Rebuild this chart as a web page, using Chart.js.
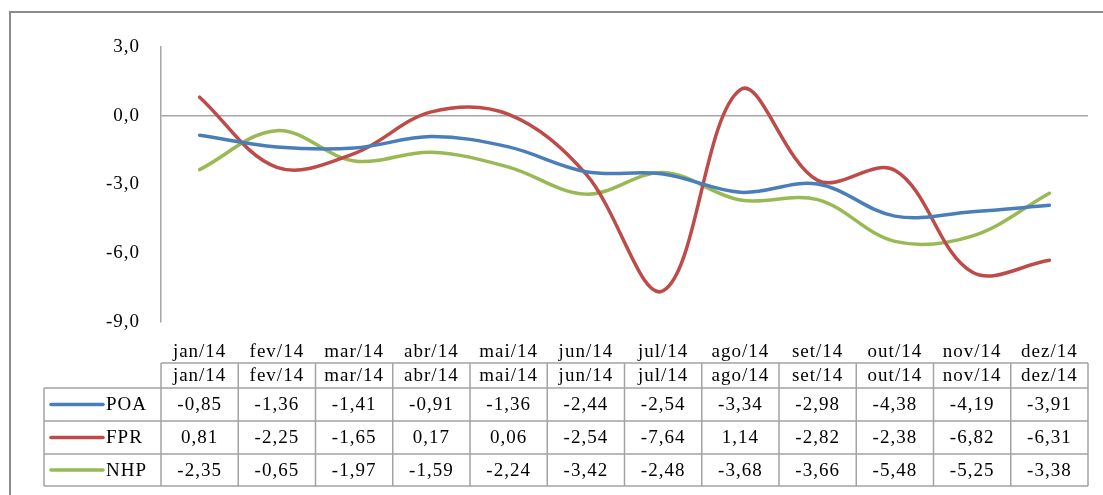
<!DOCTYPE html>
<html>
<head>
<meta charset="utf-8">
<script src="https://cdn.jsdelivr.net/npm/chart.js@4.4.1/dist/chart.umd.min.js"></script>
<style>
  html, body { margin: 0; padding: 0; background: #fff; }
  #wrap { width: 1103px; height: 495px; position: relative; }
</style>
</head>
<body>
<div id="wrap"><canvas id="chart" width="1103" height="495"></canvas></div>
<script>
const months = ['jan/14', 'fev/14', 'mar/14', 'abr/14', 'mai/14', 'jun/14', 'jul/14', 'ago/14', 'set/14', 'out/14', 'nov/14', 'dez/14'];
const poa = [-0.85, -1.36, -1.41, -0.91, -1.36, -2.44, -2.54, -3.34, -2.98, -4.38, -4.19, -3.91];
const fpr = [0.81, -2.25, -1.65, 0.17, 0.06, -2.54, -7.64, 1.14, -2.82, -2.38, -6.82, -6.31];
const nhp = [-2.35, -0.65, -1.97, -1.59, -2.24, -3.42, -2.48, -3.68, -3.66, -5.48, -5.25, -3.38];
const yTicks = [3, 0, -3, -6, -9];

const series = [
  { label: 'POA', data: poa, color: '#4a7ebb' },
  { label: 'FPR', data: fpr, color: '#be4b48' },
  { label: 'NHP', data: nhp, color: '#98b954' },
];

const FONT = '"Liberation Serif", "Times New Roman", serif';
const comma = (v, d) => v.toFixed(d).replace('.', ',');

// frame + data table under the plot, aligned to the category scale
const tablePlugin = {
  id: 'dataTable',
  beforeDraw(chart) {
    const ctx = chart.ctx;
    ctx.letterSpacing = '1px';
    ctx.save();
    ctx.strokeStyle = '#8c8c8c';
    ctx.lineWidth = 2;
    ctx.beginPath();
    ctx.moveTo(10, 495);
    ctx.lineTo(10, 12);
    ctx.lineTo(1103, 12);
    ctx.stroke();
    ctx.restore();
  },
  afterDraw(chart) {
    const ctx = chart.ctx;
    const x = chart.scales.x;
    const colW = (x.right - x.left) / months.length;
    const headTop = 363, rowTops = [388, 421, 454], bottom = 486;
    const legLeft = 44;

    ctx.save();
    ctx.strokeStyle = '#a3a3a3';
    ctx.lineWidth = 1.5;
    ctx.beginPath();
    // horizontal rules
    ctx.moveTo(x.left, headTop); ctx.lineTo(x.right, headTop);
    [...rowTops, bottom].forEach((y) => { ctx.moveTo(legLeft, y); ctx.lineTo(x.right, y); });
    // vertical rules
    ctx.moveTo(legLeft, rowTops[0]); ctx.lineTo(legLeft, bottom);
    for (let i = 0; i <= months.length; i++) {
      const cx = x.left + i * colW;
      ctx.moveTo(cx, headTop); ctx.lineTo(cx, bottom);
    }
    ctx.stroke();

    ctx.fillStyle = '#000';
    ctx.font = '19px ' + FONT;
    ctx.textAlign = 'center';
    ctx.textBaseline = 'middle';
    months.forEach((m, i) => ctx.fillText(m, x.getPixelForTick(i), (headTop + rowTops[0]) / 2 + 1));

    series.forEach((s, r) => {
      const cy = (rowTops[r] + (rowTops[r + 1] || bottom)) / 2 + 1;
      s.data.forEach((v, i) => {
        ctx.textAlign = 'center';
        ctx.fillText(comma(v, 2), x.getPixelForTick(i), cy);
      });
      ctx.strokeStyle = s.color;
      ctx.lineWidth = 3.5;
      ctx.lineCap = 'round';
      ctx.beginPath();
      ctx.moveTo(51, cy - 1); ctx.lineTo(103, cy - 1);
      ctx.stroke();
      ctx.textAlign = 'left';
      ctx.fillText(s.label, 106, cy);
    });
    ctx.restore();
  },
};

new Chart(document.getElementById('chart'), {
  type: 'line',
  data: {
    labels: months,
    datasets: series.map((s) => ({
      label: s.label,
      data: s.data,
      borderColor: s.color,
      backgroundColor: s.color,
      borderWidth: 3.5,
      borderCapStyle: 'round',
      pointRadius: 0,
      tension: 0.36,
      fill: false,
    })),
  },
  options: {
    responsive: false,
    animation: false,
    events: [],
    layout: { padding: { top: 47, right: 15, bottom: 0, left: 0 } },
    plugins: { legend: { display: false }, tooltip: { enabled: false } },
    scales: {
      x: {
        offset: true,
        grid: { display: false },
        border: { display: false },
        ticks: { color: '#000', font: { family: FONT, size: 19 }, padding: 11, maxRotation: 0 },
        afterFit: (s) => { s.height = 173; },
      },
      y: {
        min: -9,
        max: 3,
        afterBuildTicks: (s) => { s.ticks = yTicks.map((v) => ({ value: v })); },
        grid: {
          drawTicks: false,
          color: (c) => (c.tick && c.tick.value === 0 ? '#a6a6a6' : 'rgba(0,0,0,0)'),
          lineWidth: 1.5,
        },
        border: { display: true, color: '#a6a6a6', width: 1.5 },
        ticks: {
          color: '#000',
          font: { family: FONT, size: 19 },
          padding: 21,
          callback: (v) => comma(v, 1),
        },
        afterFit: (s) => { s.width = 161; },
      },
    },
  },
  plugins: [tablePlugin],
});
</script>
</body>
</html>
